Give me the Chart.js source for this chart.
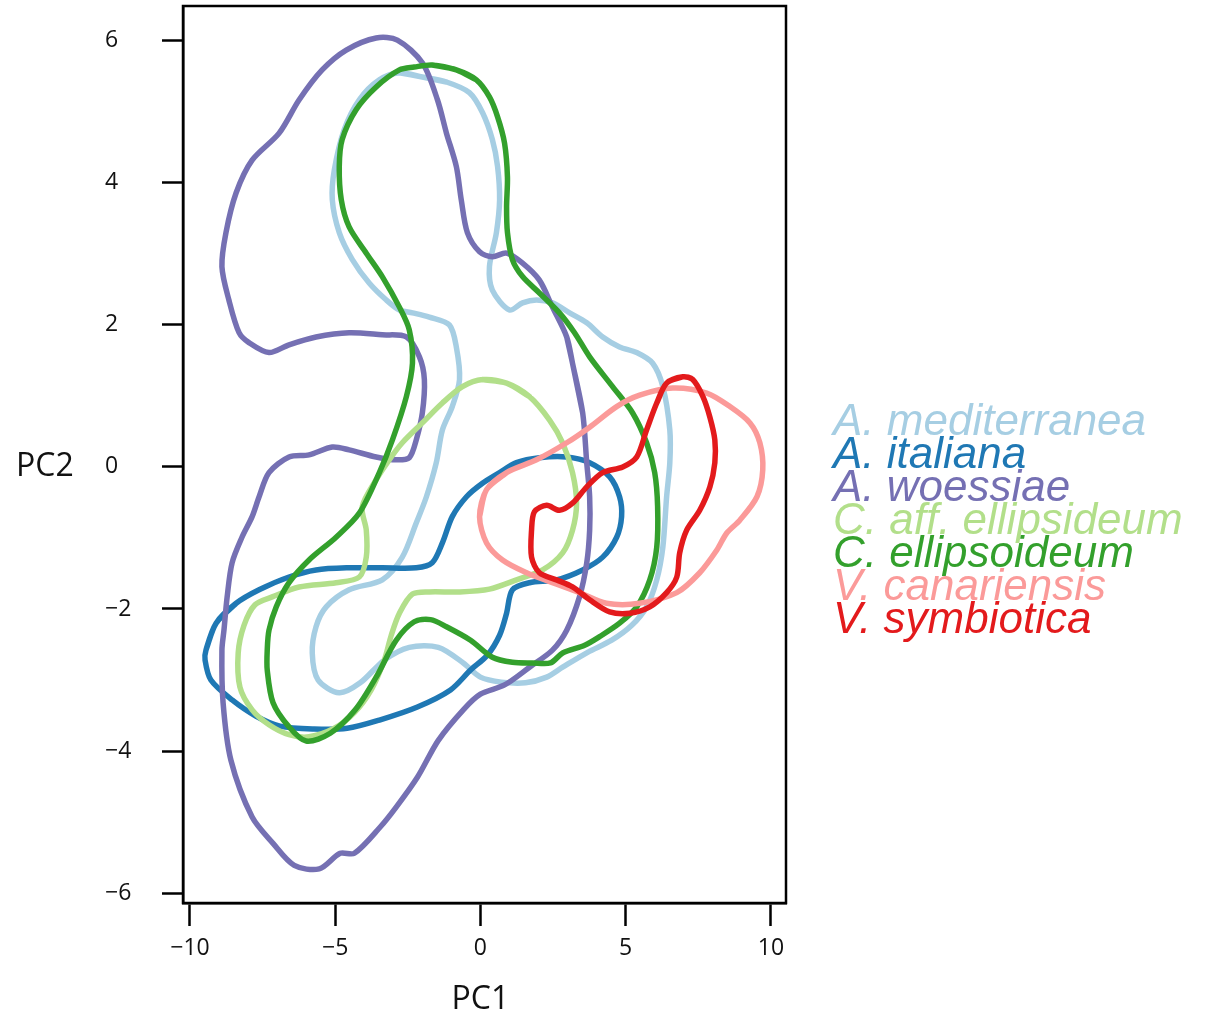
<!DOCTYPE html>
<html>
<head>
<meta charset="utf-8">
<title>PCA contours</title>
<script src="https://cdn.jsdelivr.net/npm/chart.js@4.4.1/dist/chart.umd.min.js"></script>
<style>
  html, body { margin: 0; padding: 0; background: #fff; }
  #wrap { width: 1216px; height: 1019px; }
</style>
</head>
<body>
<div id="wrap"><canvas id="pca"></canvas></div>
<script>
// contour outlines, [PC1, PC2]
const mediterranea = [
  [-2.79, 5.55], [-2.00, 5.49], [-1.17, 5.42], [-0.38, 5.27], [0.07, 4.99], [0.41, 4.61],
  [0.59, 4.23], [0.66, 3.76], [0.55, 3.30], [0.31, 2.82], [0.41, 2.49], [1.00, 2.21],
  [1.45, 2.31], [1.93, 2.35], [2.48, 2.31], [3.07, 2.17], [3.66, 2.03], [4.21, 1.83],
  [4.79, 1.69], [5.38, 1.61], [5.93, 1.46], [6.28, 1.13], [6.52, 0.52], [6.52, 0.06],
  [6.41, -0.42], [6.28, -1.13], [6.07, -1.59], [5.72, -1.97], [5.21, -2.23], [4.52, -2.44],
  [3.69, -2.61], [2.83, -2.82], [2.28, -2.96], [1.55, -3.04], [0.72, -3.03], [0.00, -2.96],
  [-0.59, -2.76], [-1.45, -2.54], [-2.45, -2.54], [-3.31, -2.72], [-4.14, -3.04], [-4.86, -3.18],
  [-5.59, -3.00], [-5.79, -2.62], [-5.66, -2.25], [-5.31, -1.97], [-4.52, -1.73], [-3.38, -1.59],
  [-2.69, -1.27], [-2.21, -0.79], [-1.86, -0.42], [-1.52, 0.06], [-1.31, 0.52], [-0.97, 0.85],
  [-0.72, 1.23], [-0.83, 1.69], [-1.07, 2.00], [-1.76, 2.11], [-2.34, 2.17], [-2.79, 2.21],
  [-3.24, 2.35], [-3.83, 2.59], [-4.41, 2.92], [-4.86, 3.30], [-5.10, 3.76], [-5.03, 4.18],
  [-4.69, 4.75], [-4.17, 5.17], [-3.48, 5.45]
];
const italiana = [
  [-9.45, -2.58], [-9.10, -2.20], [-8.41, -1.92], [-7.62, -1.73], [-6.59, -1.55], [-5.66, -1.45],
  [-4.52, -1.42], [-3.38, -1.42], [-2.21, -1.42], [-1.66, -1.35], [-1.31, -1.07], [-0.97, -0.70],
  [-0.48, -0.42], [0.07, -0.23], [0.66, -0.08], [1.24, 0.06], [2.03, 0.13], [2.97, 0.14],
  [3.76, 0.06], [4.45, -0.14], [4.79, -0.42], [4.86, -0.70], [4.69, -0.99], [4.21, -1.27],
  [3.52, -1.45], [2.62, -1.59], [1.69, -1.63], [1.10, -1.73], [0.90, -2.06], [0.66, -2.37],
  [0.24, -2.65], [-0.34, -2.86], [-1.03, -3.14], [-2.17, -3.38], [-3.45, -3.56], [-4.59, -3.68],
  [-5.72, -3.69], [-6.90, -3.65], [-7.72, -3.51], [-8.55, -3.28], [-9.28, -3.00], [-9.48, -2.72]
];
const woessiae = [
  [2.97, 1.83], [3.17, 1.46], [3.52, 0.76], [3.66, 0.06], [3.76, -0.42], [3.76, -0.89],
  [3.66, -1.35], [3.41, -1.83], [2.97, -2.30], [2.48, -2.58], [1.69, -2.82], [0.83, -3.07],
  [0.00, -3.20], [-0.59, -3.42], [-1.45, -3.85], [-2.17, -4.37], [-2.90, -4.79], [-3.45, -5.07],
  [-4.34, -5.44], [-4.83, -5.44], [-5.55, -5.66], [-6.41, -5.61], [-7.14, -5.30], [-7.86, -4.93],
  [-8.59, -4.13], [-8.86, -3.32], [-8.90, -2.58], [-8.83, -2.30], [-8.72, -1.83], [-8.55, -1.35],
  [-8.21, -0.99], [-7.86, -0.70], [-7.62, -0.42], [-7.28, -0.08], [-6.59, 0.14], [-5.90, 0.17],
  [-5.10, 0.28], [-4.52, 0.24], [-3.59, 0.14], [-2.90, 0.10], [-2.45, 0.13], [-2.21, 0.38],
  [-2.00, 0.76], [-1.93, 1.23], [-2.10, 1.55], [-2.55, 1.83], [-3.38, 1.86], [-4.52, 1.89],
  [-5.66, 1.83], [-6.59, 1.72], [-7.28, 1.61], [-7.97, 1.75], [-8.31, 1.89], [-8.66, 2.35],
  [-8.90, 2.82], [-8.76, 3.30], [-8.41, 3.86], [-7.86, 4.32], [-6.93, 4.70], [-6.24, 5.17],
  [-5.45, 5.59], [-4.62, 5.87], [-3.59, 6.04], [-2.86, 6.01], [-2.00, 5.69], [-1.48, 5.17],
  [-1.17, 4.70], [-0.83, 4.23], [-0.66, 3.76], [-0.45, 3.30], [-0.03, 3.03], [0.41, 2.96],
  [0.90, 3.01], [1.45, 2.87], [2.03, 2.63], [2.48, 2.25]
];
const affEllipsideum = [
  [0.07, 1.23], [0.90, 1.18], [1.69, 0.99], [2.38, 0.66], [2.83, 0.34], [3.17, -0.08],
  [3.31, -0.51], [3.17, -0.89], [2.83, -1.21], [2.14, -1.45], [1.24, -1.59], [0.31, -1.72],
  [-0.72, -1.76], [-1.76, -1.76], [-2.34, -1.79], [-2.79, -2.06], [-3.07, -2.37], [-3.31, -2.72],
  [-3.76, -3.14], [-4.34, -3.46], [-5.03, -3.68], [-5.90, -3.80], [-6.59, -3.77], [-7.28, -3.63],
  [-7.86, -3.42], [-8.28, -3.10], [-8.34, -2.62], [-8.14, -2.23], [-7.76, -1.94], [-7.17, -1.83],
  [-6.24, -1.69], [-4.97, -1.63], [-4.17, -1.55], [-3.93, -1.27], [-3.93, -0.89], [-4.07, -0.56],
  [-3.59, -0.18], [-3.14, 0.10], [-2.69, 0.34], [-2.00, 0.62], [-1.31, 0.90], [-0.62, 1.13]
];
const ellipsoideum = [
  [-1.66, 5.66], [-0.83, 5.59], [-0.14, 5.45], [0.31, 5.21], [0.59, 4.93], [0.83, 4.56],
  [0.93, 4.08], [0.90, 3.66], [0.93, 3.30], [1.10, 2.92], [1.45, 2.68], [2.03, 2.45],
  [2.72, 2.17], [3.24, 1.89], [3.76, 1.55], [4.55, 1.13], [5.24, 0.76], [5.72, 0.34],
  [6.00, -0.08], [6.10, -0.56], [6.07, -1.13], [5.83, -1.59], [5.38, -1.97], [4.79, -2.20],
  [4.10, -2.39], [3.59, -2.51], [2.83, -2.62], [2.41, -2.76], [1.79, -2.76], [1.10, -2.75],
  [0.41, -2.68], [-0.34, -2.44], [-1.17, -2.25], [-1.72, -2.15], [-2.28, -2.18], [-2.90, -2.44],
  [-3.59, -2.96], [-4.31, -3.42], [-5.17, -3.75], [-6.00, -3.86], [-6.59, -3.66], [-7.14, -3.32],
  [-7.34, -2.86], [-7.34, -2.58], [-7.28, -2.30], [-7.03, -1.97], [-6.59, -1.63], [-5.90, -1.31],
  [-4.97, -0.99], [-4.17, -0.65], [-3.48, -0.08], [-3.03, 0.38], [-2.55, 0.99], [-2.34, 1.46],
  [-2.45, 1.93], [-2.79, 2.25], [-3.38, 2.68], [-3.93, 3.01], [-4.52, 3.38], [-4.79, 3.76],
  [-4.86, 4.23], [-4.76, 4.61], [-4.28, 5.03], [-3.59, 5.35], [-2.79, 5.59], [-2.28, 5.63]
];
const canariensis = [
  [-0.03, -0.70], [0.21, -0.32], [0.90, -0.08], [1.93, 0.10], [2.97, 0.34], [3.76, 0.56],
  [4.69, 0.85], [5.48, 1.01], [6.62, 1.11], [7.79, 1.04], [8.59, 0.85], [9.28, 0.62],
  [9.62, 0.34], [9.72, -0.04], [9.52, -0.42], [8.93, -0.75], [8.48, -0.93], [8.14, -1.17],
  [7.55, -1.49], [6.76, -1.77], [5.48, -1.92], [4.34, -1.92], [3.41, -1.77], [2.48, -1.63],
  [1.59, -1.49], [0.76, -1.31], [0.21, -1.07]
];
const symbiotica = [
  [6.97, 1.27], [6.41, 1.18], [6.07, 0.90], [5.72, 0.52], [5.38, 0.14], [4.90, 0.00],
  [4.21, -0.08], [3.66, -0.28], [3.17, -0.51], [2.72, -0.61], [2.28, -0.54], [1.86, -0.63],
  [1.76, -0.89], [1.76, -1.27], [2.03, -1.49], [2.62, -1.59], [3.17, -1.69], [3.76, -1.87],
  [4.45, -2.04], [5.14, -2.06], [5.83, -1.97], [6.41, -1.77], [6.76, -1.55], [6.86, -1.21],
  [7.10, -0.89], [7.55, -0.61], [7.90, -0.28], [8.07, 0.06], [8.07, 0.38], [7.90, 0.70],
  [7.66, 0.99], [7.31, 1.23]
];

const speciesNames = ['A. mediterranea', 'A. italiana', 'A. woessiae', 'C. aff. ellipsideum',
  'C. ellipsoideum', 'V. canariensis', 'V. symbiotica'];
const speciesColors = ['#a6cee3', '#1f78b4', '#7570b3', '#b2df8a', '#33a02c', '#fb9a99', '#e31a1c'];
const outlines = [mediterranea, italiana, woessiae, affEllipsideum, ellipsoideum, canariensis, symbiotica];

const xTicks = [-10, -5, 0, 5, 10];
const yTicks = [-6, -4, -2, 0, 2, 4, 6];

const axisFont = 'Open Sans, DejaVu Sans, sans-serif';

// close each outline: run past the start by two points so the join is smooth too
function closed(pts) {
  const out = pts.map(p => ({ x: p[0], y: p[1] }));
  out.push({ x: pts[0][0], y: pts[0][1] }, { x: pts[1][0], y: pts[1][1] }, { x: pts[2][0], y: pts[2][1] });
  return out;
}

function fmt(v) {
  return v < 0 ? '\u2212' + Math.abs(v) : String(v);
}

// no extra room for half-labels at the axis ends
function noEndPadding(s) {
  s.paddingTop = 0; s.paddingBottom = 0; s.paddingLeft = 0; s.paddingRight = 0;
}

const datasets = outlines.map((pts, i) => ({
  label: speciesNames[i],
  data: closed(pts),
  showLine: true,
  borderColor: speciesColors[i],
  borderWidth: 5.5,
  borderCapStyle: 'round',
  borderJoinStyle: 'round',
  pointRadius: 0,
  tension: 0.3,
  fill: false,
  order: outlines.length - i
}));

// box around plot, horizontal axis titles and the coloured italic legend
const extras = {
  id: 'extras',
  afterDraw(chart) {
    const { ctx, chartArea: a } = chart;
    ctx.save();
    ctx.strokeStyle = '#000';
    ctx.lineWidth = 2.5;
    ctx.strokeRect(a.left, a.top, a.right - a.left, a.bottom - a.top);

    ctx.fillStyle = '#111';
    ctx.font = '32px ' + axisFont;
    ctx.textAlign = 'center';
    ctx.textBaseline = 'middle';
    ctx.fillText('PC1', chart.scales.x.getPixelForValue(0), 1000);
    ctx.textAlign = 'left';
    ctx.fillText('PC2', 16, chart.scales.y.getPixelForValue(0));

    ctx.font = 'italic 44px Liberation Sans, Arial, sans-serif';
    ctx.textBaseline = 'alphabetic';
    speciesNames.forEach((name, i) => {
      ctx.fillStyle = speciesColors[i];
      ctx.fillText(name, 833, 435 + i * 33);
    });
    ctx.restore();
  }
};

new Chart(document.getElementById('pca'), {
  type: 'scatter',
  data: { datasets },
  options: {
    responsive: true,
    maintainAspectRatio: false,
    animation: false,
    layout: { padding: { left: 105, right: 430, top: 6, bottom: 0 } },
    plugins: { legend: { display: false }, tooltip: { enabled: false } },
    scales: {
      x: {
        type: 'linear',
        min: -10.24,
        max: 10.52,
        afterFit: s => { s.height = 116; noEndPadding(s); },
        afterBuildTicks: s => { s.ticks = xTicks.map(v => ({ value: v })); },
        grid: { drawOnChartArea: false, tickLength: 23, tickWidth: 2.5, tickColor: '#000' },
        border: { display: true, color: '#000', width: 2.5 },
        ticks: {
          color: '#111', padding: 9, maxRotation: 0,
          font: { family: axisFont, size: 23 },
          callback: v => fmt(v)
        }
      },
      y: {
        type: 'linear',
        min: -6.14,
        max: 6.49,
        afterFit: s => { s.width = 78; noEndPadding(s); },
        afterBuildTicks: s => { s.ticks = yTicks.map(v => ({ value: v })); },
        grid: { drawOnChartArea: false, tickLength: 21, tickWidth: 2.5, tickColor: '#000' },
        border: { display: true, color: '#000', width: 2.5 },
        ticks: {
          color: '#111', crossAlign: 'far',
          font: { family: axisFont, size: 23 },
          callback: v => fmt(v)
        }
      }
    }
  },
  plugins: [extras]
});
</script>
</body>
</html>
